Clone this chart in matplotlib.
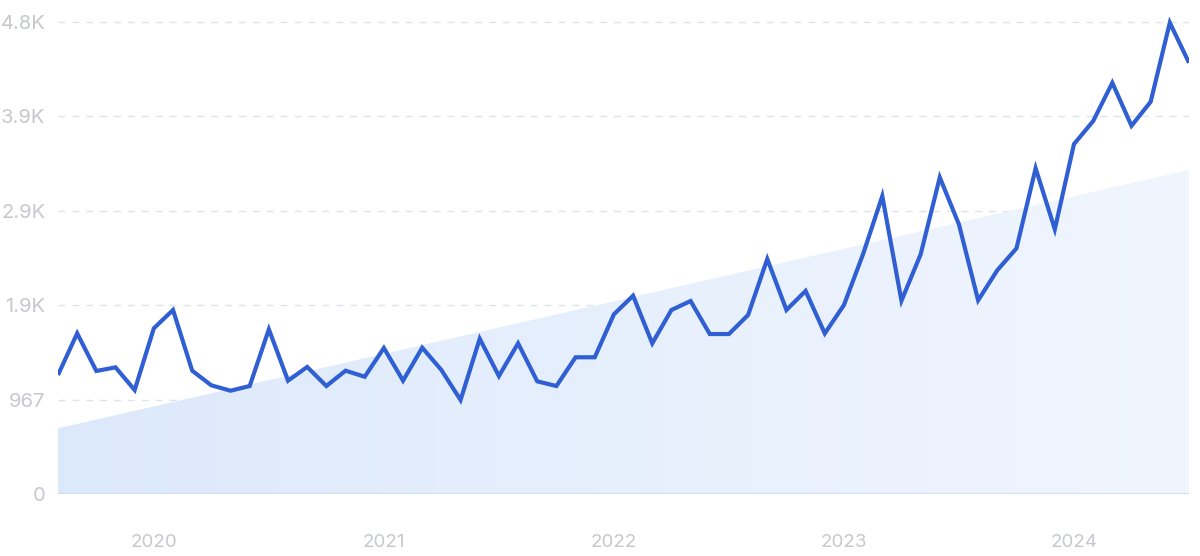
import matplotlib
matplotlib.use("Agg")
import matplotlib.pyplot as plt
import numpy as np
from matplotlib.patches import Polygon
from matplotlib.colors import LinearSegmentedColormap

plt.rcParams['font.family'] = ['Inter', 'DejaVu Sans']

# Monthly values, Aug 2019 .. Jul 2024
values = [1218, 1644, 1259, 1296, 1064, 1696, 1883, 1262, 1112, 1057,
          1105, 1685, 1160, 1300, 1105, 1262, 1200, 1494, 1160, 1497,
          1269, 962, 1589, 1207, 1542, 1153, 1105, 1399, 1399, 1839,
          2029, 1542, 1883, 1975, 1637, 1637, 1832, 2405, 1883, 2078,
          1643, 1934, 2456, 3049, 1978, 2452, 3240, 2758, 1982, 2290,
          2514, 3333, 2709, 3581, 3816, 4208, 3768, 4014, 4823, 4413]
trend = [672, 3316]  # start and end of trend area
year_labels = ['2020', '2021', '2022', '2023', '2024']
year_index = [5, 17, 29, 41, 53]
ytick_values = [0, 967, 1934, 2901, 3868, 4835]
ytick_labels = ['0', '967', '1.9K', '2.9K', '3.9K', '4.8K']

W, H = 1200, 556
fig = plt.figure(figsize=(W / 100, H / 100), dpi=100)
left, right = 58, 1189
bottom, top = 494, 10
ax = fig.add_axes([left / W, (H - bottom) / H, (right - left) / W, (bottom - top) / H])

x = np.arange(len(values))
n = len(values) - 1
ymax = 4953
ax.set_xlim(0, n)
ax.set_ylim(0, ymax)

# gridlines
for v in ytick_values[1:]:
    ax.axhline(v, color='#dde3ef', lw=1.0, ls=(0, (5, 5)), zorder=1)
ax.axhline(0, color='#cfe0f6', lw=1.5, zorder=2)

# gradient trend area
poly = Polygon([[0, 0], [0, trend[0]], [n, trend[1]], [n, 0]], closed=True,
               facecolor='none', edgecolor='none')
ax.add_patch(poly)
cmap = LinearSegmentedColormap.from_list('g', ['#dce9fb', '#f1f6fe'])
grad = np.linspace(0, 1, 256).reshape(1, -1)
im = ax.imshow(grad, extent=[0, n, 0, ymax], aspect='auto', cmap=cmap,
               origin='lower', zorder=1.5)
im.set_clip_path(poly)

ax.plot(x, values, color='#2f5fd2', lw=3.0, solid_joinstyle='miter',
        solid_capstyle='butt', zorder=3)

for s in ax.spines.values():
    s.set_visible(False)
ax.set_yticks(ytick_values)
ax.set_yticklabels(ytick_labels)
ax.set_xticks(year_index)
ax.set_xticklabels(year_labels)
ax.tick_params(axis='y', length=0, pad=9, labelsize=14.5, labelcolor='#c6c8ce')
ax.tick_params(axis='x', length=0, pad=29, labelsize=13.5, labelcolor='#c6c8ce')

fig.savefig('out.png', dpi=100, facecolor='white')
